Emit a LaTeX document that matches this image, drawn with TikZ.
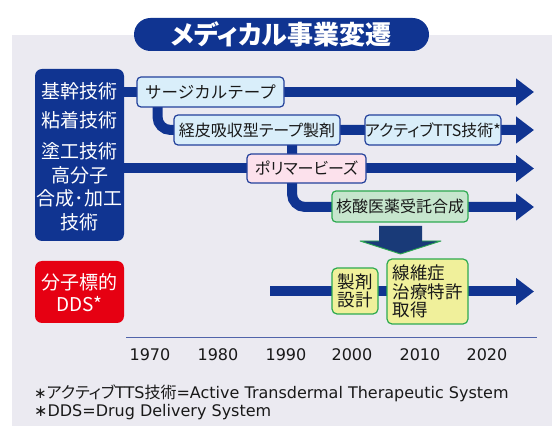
\documentclass[tikz,border=0pt]{standalone}
\usepackage{fontspec}
\setmainfont{Noto Sans CJK JP}[RawFeature=+palt]
\newfontfamily\nopalt{Noto Sans CJK JP}
\newfontfamily\symfont{DejaVu Sans}
\usetikzlibrary{arrows.meta}
\definecolor{navy}{RGB}{16,52,145}
\definecolor{bggray}{RGB}{235,234,241}
\definecolor{lightblue}{RGB}{217,238,250}
\definecolor{boxborder}{RGB}{35,65,155}
\definecolor{pinkfill}{RGB}{252,225,236}
\definecolor{greenfill}{RGB}{198,230,205}
\definecolor{greenline}{RGB}{45,170,80}
\definecolor{yellowfill}{RGB}{240,240,155}
\definecolor{redbox}{RGB}{230,0,18}
\definecolor{darknavy}{RGB}{25,58,120}
\definecolor{axisblue}{RGB}{80,100,170}
\definecolor{txt}{RGB}{25,25,25}
\tikzset{
  flow/.style={draw=navy, line width=10pt},
  flowarrow/.style={flow, -{Triangle[width=26pt,length=18pt]}},
  techbox/.style={draw=boxborder, line width=1.2pt, rounded corners=4pt, inner sep=0pt,
    text=txt, font=\fontsize{16}{18}\selectfont, align=center},
  ddsbox/.style={draw=greenline, line width=1.2pt, rounded corners=5pt, inner sep=0pt,
    fill=yellowfill, text=txt, font=\fontsize{17.5}{18.5}\selectfont},
  sidetext/.style={text=white, inner sep=0pt, font=\fontsize{19}{21}\selectfont},
  year/.style={text=txt, inner sep=0pt, font=\symfont\fontsize{16}{19}\selectfont},
  note/.style={text=txt, inner sep=0pt, anchor=west, font=\fontsize{16}{18}\selectfont},
}
\begin{document}
\begin{tikzpicture}[x=1pt,y=-1pt]
\useasboundingbox (0,0) rectangle (557,427);
\fill[bggray] (12,35) rectangle (552,426);

% title
\node[fill=navy, rounded corners=16.5pt, minimum width=295pt, minimum height=33pt, inner sep=0pt,
  text=white, font=\fontsize{26}{28}\selectfont\bfseries] (title) at (281.5,34.5) {メディカル事業変遷};

% left boxes
\node[fill=navy, rounded corners=7pt, minimum width=89pt, minimum height=172pt, inner sep=0pt] (core) at (79.5,155) {};
\node[fill=redbox, rounded corners=7pt, minimum width=89pt, minimum height=62pt, inner sep=0pt] (mt) at (79.5,292) {};

% coordinates
\coordinate (surgpos) at (210.5,92);
\coordinate (e1) at (534,92);
\coordinate (branch1) at (157.5,92);
\coordinate (e2) at (534,130);
\coordinate (e3) at (534,168.5);
\coordinate (link) at (292,130);
\coordinate (e4) at (534,207);
\coordinate (s5) at (270,291.5);
\coordinate (e5) at (534,291.5);

% flow arrows
\draw[flowarrow] (core.east |- e1) -- (e1);
\draw[flowarrow, rounded corners=13pt] (branch1) |- (e2);
\draw[flowarrow] (core.east |- e3) -- (e3);
\draw[flowarrow, rounded corners=13pt] (link) |- (e4);
\draw[flowarrow] (s5) -- (e5);

% boxes
\node[techbox, fill=lightblue, minimum width=147pt, minimum height=30pt, font=\nopalt\fontsize{16.5}{18}\selectfont] (surg) at (surgpos) {サージカルテープ};
\node[techbox, fill=lightblue, minimum width=166pt, minimum height=30pt] (keihi) at (257,130) {経皮吸収型テープ製剤};
\node[techbox, fill=lightblue, minimum width=134pt, minimum height=30pt] (active) at (433,130) {アクティブTTS技術*};
\node[techbox, fill=pinkfill, minimum width=119pt, minimum height=29pt] (poly) at (306.5,168.5) {ポリマービーズ};
\node[techbox, draw=greenline, fill=greenfill, minimum width=136pt, minimum height=31pt] (kakusan) at (400,206.5) {核酸医薬受託合成};

% down arrow
\fill[darknavy] (379,226) -- (379,241) -- (360,241) -- (400.5,254) -- (441,241) -- (422,241) -- (422,226) -- cycle;
\draw[greenline, line width=0.9pt, line join=round] (379,241) -- (360,241) -- (400.5,254) -- (441,241) -- (422,241);

\node[ddsbox, minimum width=46pt, minimum height=46pt, align=center] (seizai) at (355,291) {製剤\\設計};
\node[ddsbox, minimum width=81pt, minimum height=65pt, align=left] (senisho) at (427.5,291.5) {線維症\\治療特許\\取得};

% side texts
\node[sidetext] (t1) at (79.5,91) {基幹技術};
\node[sidetext] (t2) at (79.5,120) {粘着技術};
\node[sidetext] (t3) at (79.5,151) {塗工技術};
\node[sidetext] (t4) at (79.5,175) {高分子};
\node[sidetext] (t5) at (79.5,198) {合成･加工};
\node[sidetext] (t6) at (79.5,222) {技術};
\node[sidetext] (t7) at (79.5,282) {分子標的};
\node[sidetext] (t8) at (79.5,304) {DDS*};

% axis
\coordinate (ax1) at (126,337.5);
\coordinate (ax2) at (537,337.5);
\draw[axisblue, line width=1.5pt] (ax1) -- (ax2);
\node[year] (y1970) at (150,355) {1970};
\node[year] (y1980) at (218,355) {1980};
\node[year] (y1990) at (286,355) {1990};
\node[year] (y2000) at (352,355) {2000};
\node[year] (y2010) at (420,355) {2010};
\node[year] (y2020) at (487,355) {2020};

% footnotes
\node[note] (fn1) at (34,393) {{\symfont\fontsize{15}{18}\selectfont ∗}アクティブ{\symfont\fontsize{16}{18}\selectfont TTS}技術{\symfont\fontsize{16}{18}\selectfont =Active Transdermal Therapeutic System}};
\node[note] (fn2) at (34,412) {{\symfont\fontsize{16}{18}\selectfont ∗DDS=Drug Delivery System}};
\end{tikzpicture}
\end{document}
